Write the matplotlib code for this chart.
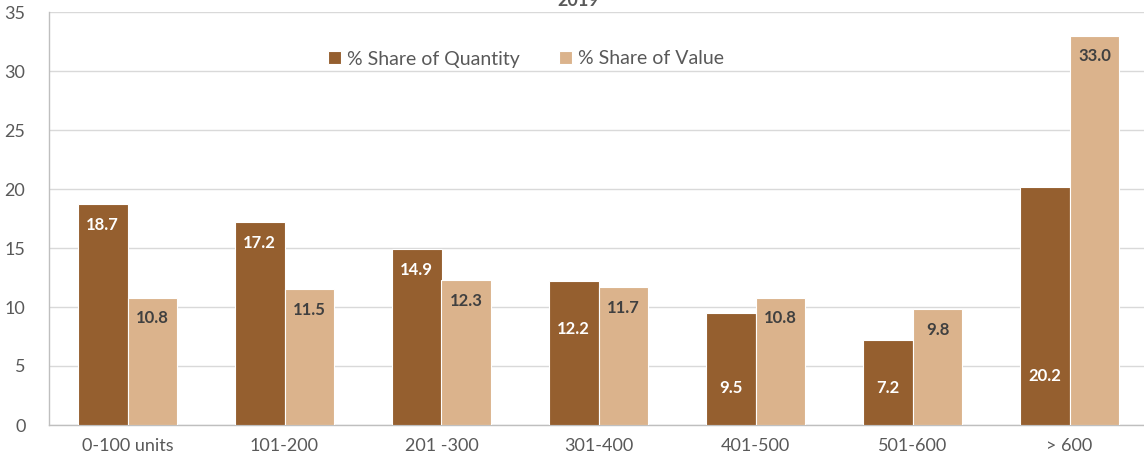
import matplotlib
matplotlib.use("Agg")
import matplotlib.pyplot as plt
import numpy as np

categories = ["0-100 units", "101-200", "201 -300", "301-400", "401-500", "501-600", "> 600"]
share_quantity = [18.7, 17.2, 14.9, 12.2, 9.5, 7.2, 20.2]
share_value = [10.8, 11.5, 12.3, 11.7, 10.8, 9.8, 33.0]
series_names = ["% Share of Quantity", "% Share of Value"]
title = "2019"

plt.rcParams['font.family'] = ['Lato', 'DejaVu Sans']

W, H, DPI = 1144, 465, 100
fig = plt.figure(figsize=(W / DPI, H / DPI), dpi=DPI)
ax = fig.add_axes([49 / W, 1 - 425 / H, 1099 / W, 413 / H])

c_q = "#955F2F"
c_v = "#DBB38C"
txt = "#595959"

x = np.arange(len(categories))
bw = 0.318
bq = ax.bar(x - bw / 2, share_quantity, bw, color=c_q, edgecolor="white", linewidth=0.8, label=series_names[0], zorder=3)
bv = ax.bar(x + bw / 2, share_value, bw, color=c_v, edgecolor="white", linewidth=0.8, label=series_names[1], zorder=3)

ax.set_xlim(-0.5, len(categories) - 0.5)
ax.set_ylim(0, 35)
ax.set_yticks(np.arange(0, 36, 5))
ax.set_xticks(x)
ax.set_xticklabels(categories)
ax.tick_params(axis='both', length=0, colors=txt, labelsize=13)
ax.tick_params(axis='y', pad=17)
ax.tick_params(axis='x', pad=9)
ax.grid(axis='y', color="#D9D9D9", linewidth=1, zorder=0)
for s in ["top", "right"]:
    ax.spines[s].set_visible(False)
for s in ["left", "bottom"]:
    ax.spines[s].set_color("#BFBFBF")
    ax.spines[s].set_linewidth(1)

# label positions (data units) for quantity labels that were moved in the source
q_label_override = {3: 8.15, 4: 3.15, 5: 3.15, 6: 4.15}
off = -15
fs_lab = 12
for i, (r, v) in enumerate(zip(bq, share_quantity)):
    cx = r.get_x() + r.get_width() / 2
    if i in q_label_override:
        ax.text(cx, q_label_override[i], f"{v:.1f}", ha='center', va='center',
                color="white", fontsize=fs_lab, fontweight='bold', zorder=4)
    else:
        ax.annotate(f"{v:.1f}", (cx, v), xytext=(0, off), textcoords='offset points',
                    ha='center', va='center', color="white", fontsize=fs_lab, fontweight='bold', zorder=4)
for r, v in zip(bv, share_value):
    cx = r.get_x() + r.get_width() / 2
    ax.annotate(f"{v:.1f}", (cx, v), xytext=(0, off), textcoords='offset points',
                ha='center', va='center', color="#404040", fontsize=fs_lab, fontweight='bold', zorder=4)

leg = ax.legend(loc='center', bbox_to_anchor=((526 - 49) / 1099, (425 - 59) / 413), ncol=2,
                frameon=False, fontsize=14, handlelength=0.7, handleheight=0.7,
                handletextpad=0.3, columnspacing=2.0, labelcolor=txt)

fig.text(578 / W, 1 - 1 / H, title, ha='center', va='center', fontsize=13,
         fontweight='bold', color="#595959")

fig.savefig("out.png", dpi=DPI)
